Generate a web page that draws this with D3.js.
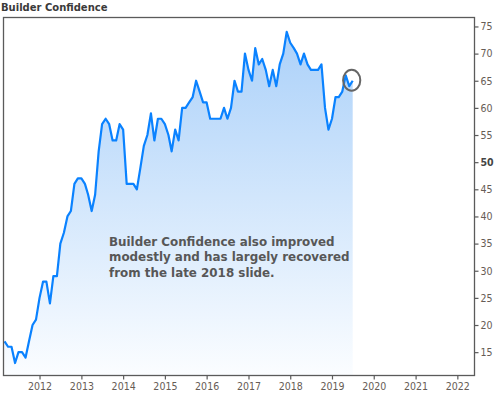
<!DOCTYPE html>
<html>
<head>
<meta charset="utf-8">
<script src="https://cdn.jsdelivr.net/npm/d3@7"></script>
<style>
	body { margin: 0; background: #fff; }
	svg { display: block; }
</style>
</head>
<body>
<div class="chart"></div>
<script>
// NAHB builder confidence, monthly, starting Mar 2011
var startMonth = "2011-03",
hmiVals = [
	17, 16, 16, 13, 15, 15, 14, 17, 20, 21,
	25, 28, 28, 24, 29, 29, 35, 37, 40, 41, 46, 47,
	47, 46, 44, 41, 44, 52, 57, 58, 57, 54, 54, 57,
	56, 46, 46, 46, 45, 49, 53, 55, 59, 54, 58, 58,
	57, 55, 52, 56, 54, 60, 60, 61, 62, 65, 63, 61,
	61, 58, 58, 58, 58, 60, 58, 60, 65, 63, 63, 70,
	67, 65, 71, 68, 69, 67, 64, 67, 64, 68, 70, 74,
	72, 71, 70, 68, 70, 68, 67, 67, 67, 68, 60, 56,
	58, 62, 62, 63, 66, 64, 65
],
yearTicks = [2012, 2013, 2014, 2015, 2016, 2017, 2018, 2019, 2020, 2021, 2022],
yTicks = [15, 20, 25, 30, 35, 40, 45, 50, 55, 60, 65, 70, 75],
titleText = "Builder Confidence",
noteLines = [
	"Builder Confidence also improved",
	"modestly and has largely recovered",
	"from the late 2018 slide."
];

var width = 502,
height = 394,
plotL = 3.5,
plotR = 474.5,
plotT = 17.5,
plotB = 375.5;

var parseMonth = d3.timeParse("%Y-%m");
var start = parseMonth(startMonth);
var data = hmiVals.map(function(v, i) {
	return { date: d3.timeMonth.offset(start, i), val: v };
});

var svg = d3.select("div.chart")
	.append("svg")
	.attr("width", width)
	.attr("height", height);

var x = d3.scaleTime()
	.domain([new Date(2011, 1, 20), new Date(2022, 4, 31)])
	.range([plotL, plotR]);

var y = d3.scaleLinear()
	.domain([10.7, 76.65])
	.range([plotB, plotT]);

var defs = svg.append("defs");
var grad = defs.append("linearGradient")
	.attr("id", "fillGrad")
	.attr("gradientUnits", "userSpaceOnUse")
	.attr("x1", 0).attr("x2", 0)
	.attr("y1", plotT).attr("y2", plotB);
grad.append("stop").attr("offset", "0%").attr("stop-color", "#a8cff9");
grad.append("stop").attr("offset", "100%").attr("stop-color", "#fbfdff");

defs.append("clipPath").attr("id", "plotClip")
	.append("rect")
	.attr("x", plotL).attr("y", plotT)
	.attr("width", plotR - plotL).attr("height", plotB - plotT);

var plot = svg.append("g").attr("clip-path", "url(#plotClip)");

var area = d3.area()
	.x(function(d) { return x(d.date); })
	.y0(plotB)
	.y1(function(d) { return y(d.val); });

var line = d3.line()
	.x(function(d) { return x(d.date); })
	.y(function(d) { return y(d.val); })
	.curve(d3.curveLinear);

plot.append("path")
	.attr("d", area(data))
	.attr("fill", "url(#fillGrad)");

plot.append("path")
	.attr("d", line(data))
	.attr("fill", "none")
	.attr("stroke", "#0a82ff")
	.attr("stroke-width", 2.2)
	.attr("stroke-linejoin", "round");

// frame
svg.append("rect")
	.attr("x", plotL).attr("y", plotT)
	.attr("width", plotR - plotL).attr("height", plotB - plotT)
	.attr("fill", "none")
	.attr("stroke", "#5a5a5a")
	.attr("stroke-width", 1.3);

// right value axis
var yAxis = d3.axisRight(y)
	.tickValues(yTicks)
	.tickSize(4)
	.tickPadding(2);

var yg = svg.append("g")
	.attr("transform", "translate(" + plotR + ",0)")
	.call(yAxis);
yg.select(".domain").remove();

// bottom year axis
var xAxis = d3.axisBottom(x)
	.tickValues(yearTicks.map(function(yr) { return new Date(yr, 0, 1); }))
	.tickFormat(d3.timeFormat("%Y"))
	.tickSize(4)
	.tickPadding(3);

var xg = svg.append("g")
	.attr("transform", "translate(0," + plotB + ")")
	.call(xAxis);
xg.select(".domain").remove();

svg.selectAll(".tick line").attr("stroke", "#5a5a5a").attr("stroke-width", 1.2);
svg.selectAll(".tick text")
	.attr("fill", "#665c55")
	.style("font-family", "'DejaVu Sans Condensed', 'DejaVu Sans', sans-serif")
	.style("font-size", "10.5px");

yg.selectAll(".tick text")
	.filter(function(d) { return d === 50; })
	.style("font-weight", "bold")
	.attr("fill", "#444");

// title
svg.append("text")
	.attr("x", 1)
	.attr("y", 11)
	.attr("fill", "#3a3a3a")
	.style("font-family", "'DejaVu Sans', sans-serif")
	.style("font-weight", "bold")
	.style("font-size", "10px")
	.text(titleText);

// note
svg.append("text")
	.attr("fill", "#575757")
	.style("font-family", "'DejaVu Sans', sans-serif")
	.style("font-weight", "bold")
	.style("font-size", "11.9px")
	.selectAll("tspan")
	.data(noteLines)
	.enter().append("tspan")
	.attr("x", 109)
	.attr("y", function(d, i) { return 245.5 + i * 15.5; })
	.text(function(d) { return d; });

// circle round the latest reading
var last = data[data.length - 1];
svg.append("ellipse")
	.attr("cx", x(last.date) - 1)
	.attr("cy", y(last.val) - 0.5)
	.attr("rx", 8.6)
	.attr("ry", 10.4)
	.attr("fill", "none")
	.attr("stroke", "#666")
	.attr("stroke-width", 2);
</script>
</body>
</html>
